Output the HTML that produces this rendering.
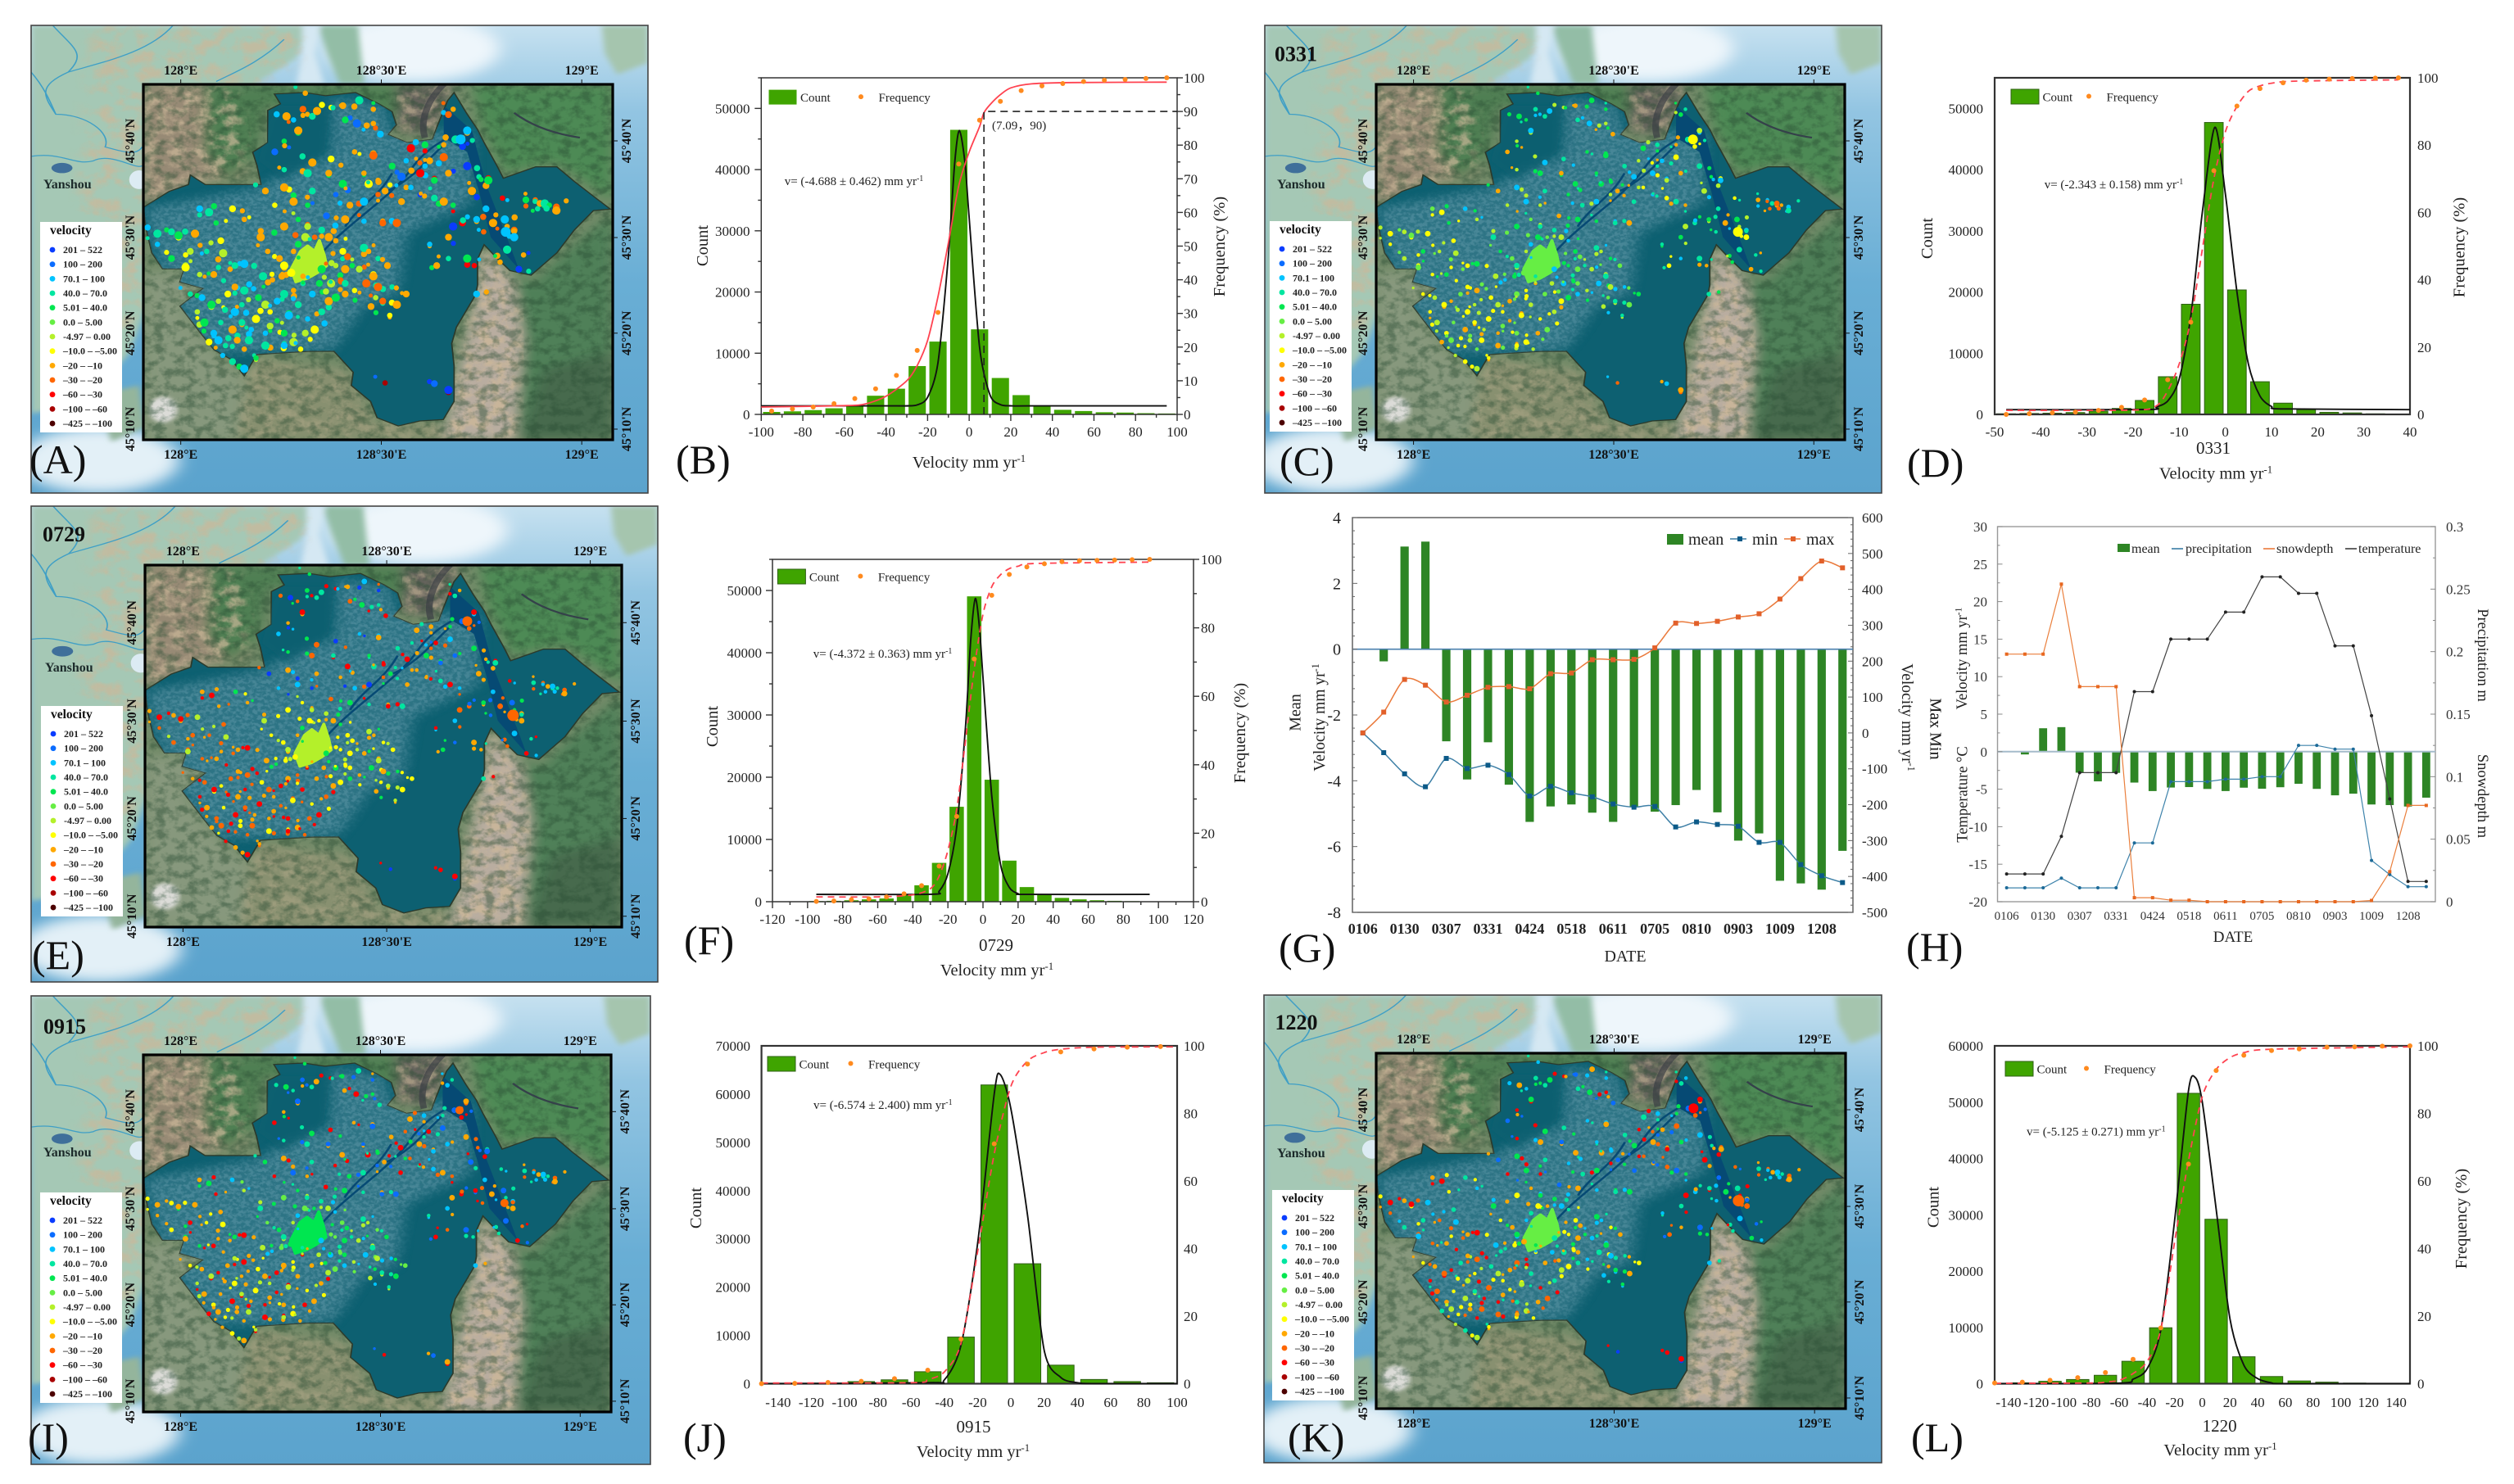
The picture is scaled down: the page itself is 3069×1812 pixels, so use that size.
<!DOCTYPE html>
<html lang="en">
<head>
<meta charset="utf-8">
<title>Velocity maps and histograms</title>
<style>
html,body{margin:0;padding:0;background:#fff;}
svg{display:block;font-family:"Liberation Serif","Noto Sans CJK SC",serif;}
</style>
</head>
<body>
<svg id="figure" xmlns="http://www.w3.org/2000/svg" width="3069" height="1812" viewBox="0 0 3069 1812">
<defs>
<clipPath id="clip-art"><rect x="0" y="0" width="1000" height="1000"/></clipPath>
<linearGradient id="sea" x1="0" y1="0" x2="0" y2="1">
<stop offset="0" stop-color="#c6e1f0"/><stop offset=".18" stop-color="#93c5e2"/><stop offset=".55" stop-color="#69aed5"/><stop offset="1" stop-color="#5ba3cd"/>
</linearGradient>
<filter id="f-blur" x="-10%" y="-10%" width="120%" height="120%"><feGaussianBlur stdDeviation="14"/></filter>
<filter id="f-blur-s" x="-10%" y="-10%" width="120%" height="120%"><feGaussianBlur stdDeviation="5"/></filter>
<filter id="f-tan" x="0" y="0" width="100%" height="100%" color-interpolation-filters="sRGB">
<feTurbulence type="fractalNoise" baseFrequency="0.035" numOctaves="4" seed="3"/>
<feColorMatrix values="0 0 0 0 .80  0 0 0 0 .72  0 0 0 0 .60  3.4 0 0 0 -1.45"/>
<feGaussianBlur stdDeviation="0.6" result="n"/>
<feGaussianBlur in="SourceAlpha" stdDeviation="12" result="a"/>
<feComposite in="n" in2="a" operator="in"/>
</filter>
<filter id="f-dark" x="0" y="0" width="100%" height="100%" color-interpolation-filters="sRGB">
<feTurbulence type="fractalNoise" baseFrequency="0.045" numOctaves="4" seed="11"/>
<feColorMatrix values="0 0 0 0 .16  0 0 0 0 .30  0 0 0 0 .20  3.2 0 0 0 -1.35"/>
<feComposite in2="SourceAlpha" operator="in"/>
</filter>
<filter id="f-pale" x="-5%" y="-5%" width="110%" height="110%" color-interpolation-filters="sRGB">
<feTurbulence type="fractalNoise" baseFrequency="0.11" numOctaves="3" seed="7"/>
<feColorMatrix values="0 0 0 0 .55  0 0 0 0 .72  0 0 0 0 .78  4 0 0 0 -1.55" result="n"/>
<feGaussianBlur in="SourceAlpha" stdDeviation="16" result="a"/>
<feComposite in="n" in2="a" operator="in"/>
</filter>
<g id="outer-art" clip-path="url(#clip-art)">
<rect width="1000" height="1000" fill="url(#sea)"/>
<g filter="url(#f-blur)">
<ellipse cx="110" cy="930" rx="130" ry="70" fill="#e3f0f7"/>
<ellipse cx="620" cy="50" rx="140" ry="70" fill="#eef6fb"/>
</g>
<g filter="url(#f-blur-s)">
<polygon points="0,0 450,0 430,70 370,120 250,300 200,560 160,700 100,790 40,820 0,830" fill="#a5c8b5"/>
<polygon points="465,0 530,0 540,125 500,125 480,60" fill="#93bda6"/>
<polygon points="925,0 1000,0 1000,80 950,105 930,60" fill="#a5c5ae"/>
<polygon points="105,790 175,770 185,860 130,890" fill="#94b59c"/>
<polygon points="440,0 470,0 460,60 475,125 430,125 440,60" fill="#d5e8f3"/>
</g>
<polygon points="100,0 450,0 430,70 370,120 250,300 200,560 160,650 60,650 90,200" fill="#fff" filter="url(#f-tan)" opacity=".7"/>
<ellipse cx="50" cy="305" rx="17" ry="11" fill="#3f6f9a"/>
<ellipse cx="175" cy="330" rx="16" ry="20" fill="#dcebf3"/>
<g fill="none" stroke="#3f9fc6" stroke-width="2.2">
<path d="M35,0 C70,50 90,60 60,100 C10,130 20,150 40,190 C90,190 130,230 120,260 C150,270 170,280 180,260"/>
<path d="M0,280 C50,270 70,300 100,290 C130,270 170,310 180,300"/>
<path d="M60,100 C110,80 190,60 230,0"/>
<path d="M300,120 C330,100 370,80 410,30"/>
<path d="M0,100 C20,130 30,160 40,190"/>
</g>
</g>
<g id="inner-art" clip-path="url(#clip-art)">
<rect width="1000" height="1000" fill="#728a68"/>
<g filter="url(#f-blur)">
<polygon points="0,0 200,0 240,160 210,260 120,270 40,320 0,340" fill="#978a74"/>
<polygon points="130,0 640,0 540,100 260,60 240,200 180,270 130,200" fill="#4f7f52"/>
<polygon points="540,0 660,0 620,140 540,130" fill="#65635c"/>
<polygon points="700,0 1000,0 1000,330 880,220 770,250 720,120" fill="#4e8a55"/>
<polygon points="720,500 830,560 900,470 1000,360 1000,1000 810,1000 720,900 700,620" fill="#4f8059"/>
<polygon points="725,460 790,560 810,720 790,1000 640,1000 680,760 710,600" fill="#b9ada0"/>
<polygon points="0,530 90,530 130,570 80,630 150,750 220,830 240,770 200,1000 0,1000" fill="#87987d"/>
<polygon points="220,830 240,770 440,810 490,950 640,960 640,1000 200,1000" fill="#88906f"/>
<polygon points="850,800 1000,750 1000,1000 800,1000" fill="#476b4e"/>
</g>
<ellipse cx="42" cy="915" rx="30" ry="36" fill="#dcdcd8" filter="url(#f-blur-s)"/>
<polygon points="0,0 190,0 230,160 200,260 120,270 40,320 0,340" fill="#fff" filter="url(#f-tan)" opacity=".7"/>
<polygon points="725,460 790,560 810,720 790,1000 640,1000 680,760 710,600" fill="#fff" filter="url(#f-tan)" opacity=".8"/>
<polygon points="220,830 240,770 440,810 490,950 640,960 640,1000 200,1000" fill="#fff" filter="url(#f-tan)" opacity=".3"/>
<polygon points="540,0 660,0 620,140 540,130" fill="#fff" filter="url(#f-tan)" opacity=".6"/>
<rect width="1000" height="1000" fill="#000" filter="url(#f-dark)" opacity=".45"/>
<polygon id="basin-shape" points="279,27 344,23 388,32 452,23 502,55 530,77 539,114 521,141 562,164 616,155 626,118 648,46 662,23 689,82 712,127 726,164 753,228 767,264 836,232 881,232 918,273 963,319 995,351 959,355 918,410 881,474 826,537 781,524 749,483 726,451 712,492 712,565 708,592 667,683 657,729 662,792 662,892 639,943 589,947 543,961 498,938 484,892 443,847 447,810 406,751 352,751 288,756 242,760 215,820 187,774 151,747 123,701 78,624 128,574 78,556 87,519 41,519 18,474 5,401 0,346 55,301 96,282 100,255 132,282 187,282 251,282 242,228 233,191 265,164 265,73 292,55" fill="#0d6071" stroke="#2c3a2b" stroke-width="3"/>
<clipPath id="clip-basin"><use href="#basin-shape"/></clipPath>
<g clip-path="url(#clip-basin)">
<polygon points="0,350 250,290 300,250 400,200 400,40 510,60 530,140 700,130 700,330 560,420 540,590 470,620 430,700 400,750 150,750 80,620 40,520" fill="#4f8899" opacity=".5" filter="url(#f-blur)"/>
<polygon points="0,350 250,290 300,250 400,200 400,40 510,60 530,140 700,130 700,330 560,420 540,590 470,620 430,700 400,750 150,760 60,620" fill="#fff" filter="url(#f-pale)" opacity=".28"/>
<polygon points="290,60 400,60 385,190 300,270 245,215 270,100" fill="#0d6071" opacity=".7" filter="url(#f-blur-s)"/>
<polygon points="640,60 700,130 730,280 780,450 800,520 740,430 715,300 690,190 640,150" fill="#064a74"/>
<g fill="none" stroke="#064a74" stroke-width="5">
<path d="M361,505 C420,400 520,330 570,240 C590,200 620,170 650,150"/>
<path d="M430,400 C460,340 500,320 530,250"/>
<path d="M520,300 C570,270 600,220 640,170"/>
</g>
</g>
<path d="M790,80 C830,120 880,140 930,150" fill="none" stroke="#35414a" stroke-width="5"/>
<path d="M640,0 C600,50 590,110 600,150" fill="none" stroke="#3a3f45" stroke-width="14" opacity=".7"/>
</g>
</defs>
</svg>
<script>
/* ---------- chart data ---------- */
const bCategories=[-95,-85,-75,-65,-55,-45,-35,-25,-15,-5,5,15,25,35,45,55,65,75,85,95];
const bCounts=[400,500,700,1000,1400,3050,4200,7900,11900,46500,13900,5950,3150,1400,750,550,350,300,200,150];
const bFreqValues=[1,1.6,2.2,3.2,4.7,7.6,11.6,19,30.3,74.4,87.4,93,96.2,97.6,98.3,98.9,99.3,99.5,99.8,100];
const bCumX=[-100,-60,-50,-40,-30,-25,-20,-15,-10,-5,0,5,7,10,15,20,30,50,95];
const bCumY=[2.2,2.6,3.1,5.4,10,14.5,22,35,51,68,78,85.5,89.5,92,95,97,98.2,98.6,98.7];
const bGaussX=[-100,-35,-30,-25,-20,-15,-10,-7,-4.7,-2,0,5,10,15,20,30,95];
const bGaussY=[1390,1390,1400,1550,2800,8500,26000,41000,46400,41000,32000,11000,3200,1600,1400,1390,1390];
const bXTicks=[-100,-80,-60,-40,-20,0,20,40,60,80,100];
const bYTicks=[0,10000,20000,30000,40000,50000];
const bRightTicks=[0,10,20,30,40,50,60,70,80,90,100];

const dCategories=[-47.5,-42.5,-37.5,-32.5,-27.5,-22.5,-17.5,-12.5,-7.5,-2.5,2.5,7.5,12.5,17.5,22.5,27.5,32.5,37.5];
const dCounts=[100,150,200,300,530,970,2280,6160,18000,47700,20340,5340,1840,780,340,240,100,50];
const dFreqValues=[0,0.2,0.5,0.7,1.2,2.1,4.3,10.3,27.4,72.4,91.6,96.8,98.5,99.3,99.6,99.8,99.9,100];
const dCumX=[-47.5,-20,-15,-12.5,-10,-7.5,-5,-2.5,0,2.5,5,7.5,10,15,37.5];
const dCumY=[1.2,1.3,2.5,7,15,28,49,70,84,91.5,96,97.6,98.4,99,99.4];
const dGaussX=[-47.5,-17,-15,-12.5,-10,-7.5,-5,-2.3,0,2.5,5,7.5,10,12.5,40];
const dGaussY=[780,800,1200,2200,5800,16000,33000,46900,36000,20000,8200,3000,1300,900,780];
const dXTicks=[-50,-40,-30,-20,-10,0,10,20,30,40];
const dYTicks=[0,10000,20000,30000,40000,50000];
const dRightTicks=[0,20,40,60,80,100];

const fCategories=[-95,-85,-75,-65,-55,-45,-35,-25,-15,-5,5,15,25,35,45,55,65,75,85];
const fCounts=[100,140,230,375,520,1170,2630,6240,15250,49060,19600,6600,2350,1080,610,375,230,140,90];
const fFreqBins=[-95,-85,-75,-65,-55,-45,-35,-25,-15,-5,5,15,25,35,45,55,65,75,85,95];
const fFreqValues=[0.1,0.2,0.6,0.85,1.4,2.3,4.7,10.4,24.9,70.9,89.5,95.6,97.8,98.7,99.3,99.6,99.7,99.8,99.9,100];
const fCumX=[-95,-60,-40,-30,-25,-20,-15,-10,-5,0,5,10,15,20,30,95];
const fCumY=[1.4,1.4,2,3.8,7.5,15,27,47,68,84,92,95.5,97.3,98,98.8,99.2];
const fGaussX=[-95,-30,-25,-20,-15,-10,-7,-4.4,-2,0,5,10,15,20,25,95];
const fGaussY=[1170,1200,1700,4500,12000,28000,42000,48700,44000,36000,17000,6000,2300,1300,1170,1170];
const fXTicks=[-120,-100,-80,-60,-40,-20,0,20,40,60,80,100,120];
const fYTicks=[0,10000,20000,30000,40000,50000];
const fRightTicks=[0,20,40,60,80,100];

const jCategories=[-130,-110,-90,-70,-50,-30,-10,10,30,50,70,90];
const jCounts=[60,100,430,800,2480,9660,61900,24850,3840,870,430,190];
const jFreqBins=[-150,-130,-110,-90,-70,-50,-30,-10,10,30,50,70,90];
const jFreqValues=[0,0.1,0.35,0.7,1.5,4,13.2,71,94.6,98.2,99.1,99.6,99.8];
const jCumX=[-150,-60,-50,-40,-30,-20,-10,0,10,20,30,50,100];
const jCumY=[0.2,0.3,1.2,3.5,12,39,68,88,95.5,98,99,99.6,99.7];
const jGaussX=[-150,-50,-40,-30,-20,-10,-6.5,0,10,20,30,40,50,100];
const jGaussY=[0,200,800,8000,29000,60000,64100,57000,35000,7000,1300,200,0,0];
const jXTicks=[-140,-120,-100,-80,-60,-40,-20,0,20,40,60,80,100];
const jYTicks=[0,10000,20000,30000,40000,50000,60000,70000];
const jRightTicks=[0,20,40,60,80,100];

const lCategories=[-130,-110,-90,-70,-50,-30,-10,10,30,50,70,90,110,130];
const lCounts=[150,420,740,1490,3980,9930,51570,29200,4780,1270,480,270,100,50];
const lFreqBins=[-150,-130,-110,-90,-70,-50,-30,-10,10,30,50,70,90,110,130,150];
const lFreqValues=[0.2,0.45,1,1.8,3.3,7.2,16.5,65,92.7,97.2,98.6,99.1,99.6,99.7,99.9,100];
const lCumX=[-150,-80,-70,-60,-50,-40,-30,-20,-10,0,10,20,30,50,150];
const lCumY=[0.1,0.2,0.5,1,3,6.5,16,42,66,85,93,96.5,98,99,99.7];
const lGaussX=[-150,-60,-50,-40,-30,-20,-10,-5.2,0,10,20,30,40,50,60,150];
const lGaussY=[0,100,800,2600,9500,29000,52000,54400,50000,31000,11500,3300,900,150,0,0];
const lXTicks=[-140,-120,-100,-80,-60,-40,-20,0,20,40,60,80,100,120,140];
const lYTicks=[0,10000,20000,30000,40000,50000,60000];
const lRightTicks=[0,20,40,60,80,100];

const dateLabels=["0106","0118","0130","0211","0307","0319","0331","0412","0424","0506","0518","0530","0611","0623","0705","0729","0810","0822","0903","0915","1009","1021","1208","1220"];
const meanValues=[0,-0.37,3.12,3.27,-2.8,-3.96,-2.83,-4.12,-5.25,-4.78,-4.72,-4.97,-5.25,-4.8,-4.94,-4.74,-4.28,-4.96,-5.82,-5.6,-7.04,-7.12,-7.31,-6.13];
const minValues=[0,-55,-114,-150,-71,-99,-90,-116,-176,-149,-167,-178,-198,-207,-205,-262,-248,-255,-260,-305,-305,-367,-398,-417];
const maxValues=[0,58,149,133,86,105,127,129,123,165,167,204,204,205,237,306,305,311,323,332,373,430,479,460];
const temperatureValues=[-16.3,-16.3,-16.3,-11.3,-2.8,-2.8,-2.8,8,8,15,15,15,18.6,18.6,23.3,23.3,21.1,21.1,14.1,14.1,4.8,-6.3,-17.3,-17.3];
const precipitationValues=[0.0111,0.0111,0.0111,0.0188,0.0111,0.0111,0.0111,0.047,0.047,0.096,0.096,0.096,0.098,0.098,0.1,0.1,0.125,0.125,0.122,0.122,0.033,0.0217,0.012,0.012];
const snowDepthValues=[0.198,0.198,0.198,0.254,0.172,0.172,0.172,0.0032,0.0032,0.0012,0.0012,0,0,0,0,0,0,0,0,0,0.001,0.024,0.077,0.077];
const gLeftTicks=[-8,-6,-4,-2,0,2,4];
const gRightTicks=[-500,-400,-300,-200,-100,0,100,200,300,400,500,600];
const hLeftTicks=[-20,-15,-10,-5,0,5,10,15,20,25,30];
const hRightTicks=[0,0.05,0.1,0.15,0.2,0.25,0.3];
const hRightLabels=["0","0.05","0.1","0.15","0.2","0.25","0.3"];

/* map legend classes */
const legendLabels=["201 – 522","100 – 200","70.1 – 100","40.0 – 70.0","5.01 – 40.0","0.0 – 5.00","-4.97 – 0.00","–10.0 – –5.00","–20 – –10","–30 – –20","–60 – –30","–100 – –60","–425 – –100"];
const legendColors=["#0a3cff","#0a6cff","#00c3ff","#00e6a0","#00e650","#66ee44","#b4f02a","#ffff00","#ffa800","#ff6600","#ff0000","#a80000","#4c0000"];
/* map sites, grouped by district, in relative map units */
const sitesWest=[[30,450],[60,415],[75,425],[90,480],[100,470],[110,420],[135,470],[120,350],[140,360],[155,390],[165,440],[170,475],[185,520],[195,510],[215,505],[160,515],[60,490],[90,515],[120,535],[150,535],[30,420]];
const sitesSouthWest=[[100,590],[125,600],[145,620],[160,610],[180,590],[195,640],[210,620],[195,570],[215,580],[235,575],[245,600],[260,620],[270,640],[285,610],[300,590],[320,580],[330,620],[310,650],[285,665],[270,680],[240,660],[230,690],[210,670],[190,690],[165,670],[150,700],[130,670],[115,640],[140,725],[160,720],[175,735],[200,720],[225,720],[260,700],[300,700],[320,725],[335,745],[300,735],[260,735],[215,745],[190,780],[215,800],[240,770],[345,700],[365,690],[350,660],[380,640],[395,610],[340,560],[360,590]];
const sitesCentral=[[265,470],[290,490],[300,510],[320,470],[330,450],[345,430],[365,430],[380,410],[395,430],[410,440],[425,470],[430,520],[445,510],[460,520],[475,560],[500,490],[520,510],[490,540],[450,580],[430,590],[410,600],[495,600],[510,610],[255,540],[275,550],[295,540],[315,530],[340,540],[375,560],[400,560],[420,550],[430,560],[250,430],[215,380],[190,350],[300,400],[330,380],[350,400],[500,570],[530,570],[560,590],[540,620],[525,650],[485,625],[380,520],[410,510],[435,485],[470,460],[480,470]];
const sitesNorth=[[345,25],[360,90],[330,130],[300,160],[280,190],[305,90],[320,100],[340,70],[370,75],[400,65],[425,60],[460,45],[490,70],[430,100],[455,110],[490,110],[505,140],[490,200],[450,190],[400,210],[360,220],[300,240],[395,250],[425,280],[410,310],[440,340],[470,330],[500,310],[515,300],[480,280],[500,270],[360,300],[320,330],[350,340],[390,370],[430,380],[470,385],[510,390],[300,290],[280,340],[260,300],[350,250],[470,250],[530,230],[550,260],[560,290]];
const sitesNorthEast=[[660,70],[650,85],[690,130],[680,150],[680,175],[665,155],[640,170],[600,170],[570,180],[560,215],[610,215],[640,205],[600,230],[650,250],[690,230],[715,260],[730,285],[735,270],[765,320],[730,350],[745,390],[725,415],[710,380],[700,300],[590,310],[620,320],[640,330],[660,340],[680,390],[770,380],[775,400],[790,410],[790,430],[810,480],[800,520],[775,465],[760,500],[620,270],[590,250],[570,290],[550,330],[540,390],[610,450],[650,430],[660,400],[650,490],[625,510],[690,490],[705,510],[710,590]];
const sitesEast=[[835,325],[845,335],[855,335],[865,340],[880,345],[880,355],[840,350],[815,325]];
const sitesSouth=[[515,840],[620,842],[650,860]];
const cityOutline=[[315,520],[335,470],[350,455],[365,470],[375,440],[385,480],[390,510],[370,530],[350,545],[325,555]];

/* ---------- helpers ---------- */
const NS='http://www.w3.org/2000/svg';
const svg=document.getElementById('figure');
function mk(tag,attrs,parent,content){
  const e=document.createElementNS(NS,tag);
  for(const k in attrs)e.setAttribute(k,attrs[k]);
  if(content!==undefined)e.textContent=content;
  (parent||svg).appendChild(e);
  return e;
}
function smooth(pts){
  let d='M'+pts[0][0].toFixed(1)+','+pts[0][1].toFixed(1);
  for(let i=0;i<pts.length-1;i++){
    const p0=pts[Math.max(0,i-1)],p1=pts[i],p2=pts[i+1],p3=pts[Math.min(pts.length-1,i+2)];
    const t=0.14;
    const c1x=p1[0]+(p2[0]-p0[0])*t,c1y=p1[1]+(p2[1]-p0[1])*t;
    const c2x=p2[0]-(p3[0]-p1[0])*t,c2y=p2[1]-(p3[1]-p1[1])*t;
    d+=' C'+c1x.toFixed(1)+','+c1y.toFixed(1)+' '+c2x.toFixed(1)+','+c2y.toFixed(1)+' '+p2[0].toFixed(1)+','+p2[1].toFixed(1);
  }
  return d;
}
function velocityText(parent,x,y,size,transform,label){
  const attrs={x:x,y:y,'font-size':size,'text-anchor':'middle',fill:'#222'};
  if(transform)attrs.transform=transform;
  const t=mk('text',attrs,parent);
  mk('tspan',{},t,label||'Velocity mm yr');
  mk('tspan',{dy:-size*0.35,'font-size':size*0.62},t,'-1');
  return t;
}
function rotatedTitle(parent,cx,cy,size,str,angle){
  const off=angle<0?size*0.33:-size*0.33;
  const bx=cx+off;
  const t=mk('text',{x:bx,y:cy,'font-size':size,'text-anchor':'middle',fill:'#222',transform:'rotate('+angle+' '+bx+' '+cy+')'},parent,str);
  return t;
}
function minorMids(ticks){
  const out=[];
  for(let i=0;i<ticks.length-1;i++)out.push((ticks[i]+ticks[i+1])/2);
  return out;
}

/* ---------- histograms ---------- */
function drawHistogram(c){
  const g=mk('g',{});
  
  
  const sx=v=>c.l+(v-c.xMin)/(c.xMax-c.xMin)*(c.r-c.l);
  const sy=v=>c.b-v/c.yMax*(c.b-c.t);
  const sr=v=>c.b-v/100*(c.b-c.t);
  const barFill='#3fa400';
  for(let i=0;i<c.categories.length;i++){
    const x0=sx(c.categories[i]-c.binWidth/2),x1=sx(c.categories[i]+c.binWidth/2);
    const bar=mk('rect',{x:x0,y:sy(c.counts[i]),width:x1-x0,height:c.b-sy(c.counts[i]),fill:barFill,stroke:c.ticks?'none':'#2f5f14','stroke-width':1},g);
    
    
  }
  const frame=mk('rect',{x:c.l,y:c.t,width:c.r-c.l,height:c.b-c.t,fill:'none',stroke:'#333','stroke-width':c.ticks?1.5:2.2},g);
  
  
  if(c.ticks){
    const tg=mk('g',{stroke:'#333','stroke-width':1.4},g);
    
    
    c.xTicks.forEach(v=>mk('line',{x1:sx(v),x2:sx(v),y1:c.b,y2:c.b+8},tg));
    minorMids(c.xTicks).forEach(v=>mk('line',{x1:sx(v),x2:sx(v),y1:c.b,y2:c.b+4},tg));
    c.yTicks.forEach(v=>mk('line',{x1:c.l-8,x2:c.l,y1:sy(v),y2:sy(v)},tg));
    minorMids(c.yTicks.concat([c.yMax*2-c.yTicks[c.yTicks.length-1]])).forEach(v=>{if(v<=c.yMax)mk('line',{x1:c.l-4,x2:c.l,y1:sy(v),y2:sy(v)},tg);});
    c.rightTicks.forEach(v=>mk('line',{x1:c.r,x2:c.r+7,y1:sr(v),y2:sr(v)},tg));
    minorMids(c.rightTicks).forEach(v=>mk('line',{x1:c.r,x2:c.r+4,y1:sr(v),y2:sr(v)},tg));
  }
  const gauss=mk('path',{d:smooth(c.gaussX.map((v,i)=>[sx(v),sy(c.gaussY[i])])),fill:'none',stroke:'#111','stroke-width':1.9},g);
  
  
  const cumAttrs={d:smooth(c.cumX.map((v,i)=>[sx(v),sr(c.cumY[i])])),fill:'none',stroke:'#ff4250','stroke-width':1.8};
  if(c.dashed)cumAttrs['stroke-dasharray']='8 6';
  const cum=mk('path',cumAttrs,g);
  
  
  for(let i=0;i<c.freqBins.length;i++){
    const dot=mk('circle',{cx:sx(c.freqBins[i]),cy:sr(c.freqValues[i]),r:3,fill:'#ff8a1e'},g);
    
    
  }
  c.xTicks.forEach(v=>{
    const t=mk('text',{x:sx(v),y:c.xLabelY,'font-size':17,'text-anchor':'middle',fill:'#222'},g,String(v));
    
    
  });
  c.yTicks.forEach(v=>{
    const t=mk('text',{x:c.yLabelX,y:sy(v)+6,'font-size':17,'text-anchor':'end',fill:'#222'},g,String(v));
    
    
  });
  c.rightTicks.forEach(v=>{
    const t=mk('text',{x:c.rightLabelX,y:sr(v)+6,'font-size':17,fill:'#222'},g,String(v));
    
    
  });
  const countTitle=rotatedTitle(g,c.countX,c.countY,20.5,'Count',-90);
  
  
  if(c.freqX){
    const freqTitle=rotatedTitle(g,c.freqX,c.freqY,20.5,'Frequency (%)',-90);
    
    
  }
  if(c.date){
    const d=mk('text',{x:c.dateX,y:c.dateY,'font-size':21,'text-anchor':'middle',fill:'#222'},g,c.date);
    
    
  }
  const vt=velocityText(g,c.velX,c.velY,20.5);
  
  
  const eq=mk('text',{x:c.eqX,y:c.eqY,'font-size':15,fill:'#222'},g);
  mk('tspan',{},eq,c.equation);
  mk('tspan',{dy:-5,'font-size':10},eq,'-1');
  
  
  const swatch=mk('rect',{x:c.legX,y:c.legY,width:34,height:18,fill:barFill,stroke:c.ticks&&c.id==='b'?'none':'#2f5f14','stroke-width':1},g);
  
  
  const lc=mk('text',{x:c.legX+38.5,y:c.legY+14.5,'font-size':15,fill:'#222'},g,'Count');
  
  
  const ld=mk('circle',{cx:c.legX+c.legDot,cy:c.legY+8.5,r:3,fill:'#ff8a1e'},g);
  
  
  const lf=mk('text',{x:c.legX+c.legDot+21.5,y:c.legY+14.5,'font-size':15,fill:'#222'},g,'Frequency');
  
  
  if(c.marker){
    const dash=mk('path',{d:'M'+sx(c.marker[0])+','+c.b+' V'+sr(c.marker[1])+' H'+c.r,fill:'none',stroke:'#222','stroke-width':1.6,'stroke-dasharray':'9 6'},g);
    
    
    const note=mk('text',{x:1211,y:158,'font-size':15,fill:'#222'},g,'(7.09，90)');
    
    
  }
}
drawHistogram({id:'b',l:929.3,r:1437,t:95,b:506,xMin:-100,xMax:100,yMax:55000,binWidth:8.3,ticks:true,dashed:false,categories:bCategories,counts:bCounts,freqBins:bCategories,freqValues:bFreqValues,cumX:bCumX,cumY:bCumY,gaussX:bGaussX,gaussY:bGaussY,xTicks:bXTicks,yTicks:bYTicks,rightTicks:bRightTicks,xLabelY:533,yLabelX:915.5,rightLabelX:1445,countX:857,countY:300,freqX:1488,freqY:301,velX:1183,velY:571,eqX:957.7,eqY:226,equation:'v= (-4.688 ± 0.462) mm yr',legX:938.5,legY:109.6,legDot:112.5,marker:[7.09,90]});
drawHistogram({id:'d',l:2435,r:2942,t:95,b:506,xMin:-50,xMax:40,yMax:55000,binWidth:4.05,ticks:false,dashed:true,categories:dCategories,counts:dCounts,freqBins:dCategories,freqValues:dFreqValues,cumX:dCumX,cumY:dCumY,gaussX:dGaussX,gaussY:dGaussY,xTicks:dXTicks,yTicks:dYTicks,rightTicks:dRightTicks,xLabelY:533,yLabelX:2421,rightLabelX:2951,countX:2352,countY:291,freqX:3001.6,freqY:302,date:'0331',dateX:2702,dateY:554,velX:2705,velY:584.5,eqX:2495.7,eqY:230,equation:'v= (-2.343 ± 0.158) mm yr',legX:2455,legY:109,legDot:95});
drawHistogram({id:'f',l:943,r:1457,t:683,b:1101,xMin:-120,xMax:120,yMax:55000,binWidth:8.2,ticks:true,dashed:true,categories:fCategories,counts:fCounts,freqBins:fFreqBins,freqValues:fFreqValues,cumX:fCumX,cumY:fCumY,gaussX:fGaussX,gaussY:fGaussY,xTicks:fXTicks,yTicks:fYTicks,rightTicks:fRightTicks,xLabelY:1128,yLabelX:930,rightLabelX:1466,countX:869,countY:887,freqX:1513,freqY:895,date:'0729',dateX:1216,dateY:1161,velX:1217,velY:1191,eqX:992.8,eqY:803,equation:'v= (-4.372 ± 0.363) mm yr',legX:949.4,legY:695,legDot:101});
drawHistogram({id:'j',l:929.6,r:1437,t:1277,b:1689.5,xMin:-150,xMax:100,yMax:70000,binWidth:16,ticks:false,dashed:true,categories:jCategories,counts:jCounts,freqBins:jFreqBins,freqValues:jFreqValues,cumX:jCumX,cumY:jCumY,gaussX:jGaussX,gaussY:jGaussY,xTicks:jXTicks,yTicks:jYTicks,rightTicks:jRightTicks,xLabelY:1718,yLabelX:916,rightLabelX:1445,countX:849,countY:1475,date:'0915',dateX:1188.5,dateY:1749,velX:1188,velY:1779,eqX:993,eqY:1354,equation:'v= (-6.574 ± 2.400) mm yr',legX:937,legY:1290,legDot:101.5});
drawHistogram({id:'l',l:2435,r:2942,t:1277,b:1689.5,xMin:-150,xMax:150,yMax:60000,binWidth:16.2,ticks:false,dashed:true,categories:lCategories,counts:lCounts,freqBins:lFreqBins,freqValues:lFreqValues,cumX:lCumX,cumY:lCumY,gaussX:lGaussX,gaussY:lGaussY,xTicks:lXTicks,yTicks:lYTicks,rightTicks:lRightTicks,xLabelY:1718,yLabelX:2421,rightLabelX:2951,countX:2359.5,countY:1474,freqX:3004,freqY:1488,date:'1220',dateX:2709.6,dateY:1748,velX:2710.5,velY:1777,eqX:2474,eqY:1386.7,equation:'v= (-5.125 ± 0.271) mm yr',legX:2448,legY:1296,legDot:99});

/* ---------- chart G ---------- */
(function(){
  const l=1651,r=2262,t=632,b=1114;
  const g=mk('g',{});
  
  
  const band=(r-l)/dateLabels.length;
  const sx=i=>l+band*(i+0.5);
  const sy=v=>t+(4-v)/12*(b-t);
  const sr=v=>t+(600-v)/1100*(b-t);
  meanValues.forEach((v,i)=>{
    const y0=Math.min(sy(v),sy(0)),h=Math.abs(sy(v)-sy(0));
    const bar=mk('rect',{x:sx(i)-band*0.2,y:y0,width:band*0.4,height:h,fill:'#2e8525'},g);
    
    
  });
  const frame=mk('rect',{x:l,y:t,width:r-l,height:b-t,fill:'none',stroke:'#555','stroke-width':1.4},g);
  
  
  const zero=mk('line',{x1:l,x2:r,y1:sy(0),y2:sy(0),stroke:'#4a7fae','stroke-width':1.6},g);
  
  
  const tg=mk('g',{stroke:'#666','stroke-width':1},g);
  
  
  gLeftTicks.forEach((v,i)=>{
    mk('line',{x1:l,x2:l+6,y1:sy(v),y2:sy(v)},tg);
    if(i<gLeftTicks.length-1)[0.4,0.8,1.2,1.6].forEach(d=>mk('line',{x1:l,x2:l+3,y1:sy(v+d),y2:sy(v+d)},tg));
  });
  gRightTicks.forEach((v,i)=>{
    mk('line',{x1:r-6,x2:r,y1:sr(v),y2:sr(v)},tg);
    if(i<gRightTicks.length-1)[20,40,60,80].forEach(d=>mk('line',{x1:r-3,x2:r,y1:sr(v+d),y2:sr(v+d)},tg));
  });
  const minLine=mk('path',{d:smooth(minValues.map((v,i)=>[sx(i),sr(v)])),fill:'none',stroke:'#3d7fa6','stroke-width':1.5},g);
  
  
  const maxLine=mk('path',{d:smooth(maxValues.map((v,i)=>[sx(i),sr(v)])),fill:'none',stroke:'#ea7a3c','stroke-width':1.5},g);
  
  
  minValues.forEach((v,i)=>{
    const m=mk('rect',{x:sx(i)-3,y:sr(v)-3,width:6,height:6,fill:'#0c5a88'},g);
    
    
  });
  maxValues.forEach((v,i)=>{
    const m=mk('rect',{x:sx(i)-3,y:sr(v)-3,width:6,height:6,fill:'#e2602a'},g);
    
    
  });
  gLeftTicks.forEach(v=>{
    const s=mk('text',{x:1637,y:sy(v)+7,'font-size':20,'text-anchor':'end',fill:'#222'},g,String(v));
    
    
  });
  gRightTicks.forEach(v=>{
    const s=mk('text',{x:2273,y:sr(v)+6,'font-size':17,fill:'#222'},g,String(v));
    
    
  });
  dateLabels.forEach((d,i)=>{
    if(i%2)return;
    const s=mk('text',{x:sx(i),y:1140,'font-size':18,'font-weight':'bold','text-anchor':'middle',fill:'#222'},g,d);
    
    
  });
  const dt=mk('text',{x:1984,y:1174,'font-size':20,'text-anchor':'middle',fill:'#222'},g,'DATE');
  
  
  const mt=rotatedTitle(g,1581,870,20,'Mean',-90);
  
  
  const vl=velocityText(g,1617,876,19.5,'rotate(-90 1617 876)');
  
  
  const vr=velocityText(g,2322,876,19.5,'rotate(90 2322 876)');
  
  
  const mm=rotatedTitle(g,2363,890,20,'Max Min',90);
  
  
  const sw=mk('rect',{x:2035,y:652,width:20,height:13,fill:'#2e8525'},g);
  
  
  const t1=mk('text',{x:2061,y:665,'font-size':20,fill:'#222'},g,'mean');
  
  
  const l1=mk('line',{x1:2112,x2:2132,y1:658,y2:658,stroke:'#3d7fa6','stroke-width':1.5},g);
  
  
  const m1=mk('rect',{x:2121,y:655,width:6,height:6,fill:'#0c5a88'},g);
  
  
  const t2=mk('text',{x:2139,y:665,'font-size':20,fill:'#222'},g,'min');
  
  
  const l2=mk('line',{x1:2178,x2:2198,y1:658,y2:658,stroke:'#ea7a3c','stroke-width':1.5},g);
  
  
  const m2=mk('rect',{x:2186,y:655,width:6,height:6,fill:'#e2602a'},g);
  
  
  const t3=mk('text',{x:2205,y:665,'font-size':20,fill:'#222'},g,'max');
  
  
})();

/* ---------- chart H ---------- */
(function(){
  const l=2438.5,r=2973,t=643,b=1101;
  const g=mk('g',{});
  
  
  const band=(r-l)/dateLabels.length;
  const sx=i=>l+band*(i+0.5);
  const sy=v=>t+(30-v)/50*(b-t);
  const sr=v=>b-v/0.3*(b-t);
  meanValues.forEach((v,i)=>{
    const y0=Math.min(sy(v),sy(0)),h=Math.abs(sy(v)-sy(0));
    const bar=mk('rect',{x:sx(i)-band*0.22,y:y0,width:band*0.44,height:h,fill:'#2e8525'},g);
    
    
  });
  const frame=mk('rect',{x:l,y:t,width:r-l,height:b-t,fill:'none',stroke:'#999','stroke-width':1.4},g);
  
  
  const zero=mk('line',{x1:l,x2:r,y1:sy(0),y2:sy(0),stroke:'#a5bccb','stroke-width':2},g);
  
  
  const tg=mk('g',{stroke:'#888','stroke-width':1},g);
  
  
  hLeftTicks.forEach(v=>mk('line',{x1:l,x2:l+6,y1:sy(v),y2:sy(v)},tg));
  minorMids(hLeftTicks).forEach(v=>mk('line',{x1:l,x2:l+3,y1:sy(v),y2:sy(v)},tg));
  hRightTicks.forEach(v=>mk('line',{x1:r-6,x2:r,y1:sr(v),y2:sr(v)},tg));
  minorMids(hRightTicks).forEach(v=>mk('line',{x1:r-3,x2:r,y1:sr(v),y2:sr(v)},tg));
  const toPts=(vals,scale)=>vals.map((v,i)=>sx(i).toFixed(1)+','+scale(v).toFixed(1)).join(' ');
  const tempLine=mk('polyline',{points:toPts(temperatureValues,sy),fill:'none',stroke:'#444','stroke-width':1.2},g);
  
  
  const precLine=mk('polyline',{points:toPts(precipitationValues,sr),fill:'none',stroke:'#3e83ab','stroke-width':1.2},g);
  
  
  const snowLine=mk('polyline',{points:toPts(snowDepthValues,sr),fill:'none',stroke:'#ea7f3c','stroke-width':1.2},g);
  
  
  temperatureValues.forEach((v,i)=>{
    const m=mk('circle',{cx:sx(i),cy:sy(v),r:2,fill:'#222'},g);
    
    
  });
  precipitationValues.forEach((v,i)=>{
    const m=mk('circle',{cx:sx(i),cy:sr(v),r:2,fill:'#1c6a98'},g);
    
    
  });
  snowDepthValues.forEach((v,i)=>{
    const m=mk('rect',{x:sx(i)-2,y:sr(v)-2,width:4,height:4,fill:'#e8671f'},g);
    
    
  });
  hLeftTicks.forEach(v=>{
    const s=mk('text',{x:2426,y:sy(v)+6,'font-size':17,'text-anchor':'end',fill:'#333'},g,String(v));
    
    
  });
  hRightTicks.forEach((v,i)=>{
    const s=mk('text',{x:2986,y:sr(v)+6,'font-size':17,fill:'#333'},g,hRightLabels[i]);
    
    
  });
  dateLabels.forEach((d,i)=>{
    if(i%2)return;
    const s=mk('text',{x:sx(i),y:1123,'font-size':15,'text-anchor':'middle',fill:'#333'},g,d);
    
    
  });
  const dt=mk('text',{x:2726,y:1150,'font-size':19,'text-anchor':'middle',fill:'#222'},g,'DATE');
  
  
  const v1=velocityText(g,2401,804,18.5,'rotate(-90 2401 804)');
  
  
  const v2=rotatedTitle(g,2395.5,970,18.5,'Temperature °C',-90);
  
  
  const v3=rotatedTitle(g,3031,800,18.5,'Precipitation  m',90);
  
  
  const v4=rotatedTitle(g,3031,972,18.5,'Snowdepth m',90);
  
  
  const sw=mk('rect',{x:2585,y:664,width:15,height:10,fill:'#2e8525'},g);
  
  
  const t1=mk('text',{x:2602,y:675,'font-size':16,fill:'#222'},g,'mean');
  
  
  const l1=mk('line',{x1:2651,x2:2665,y1:670,y2:670,stroke:'#1c6a98','stroke-width':1.4},g);
  
  
  const t2=mk('text',{x:2668,y:675,'font-size':16,fill:'#222'},g,'precipitation');
  
  
  const l2=mk('line',{x1:2763,x2:2777,y1:670,y2:670,stroke:'#e8671f','stroke-width':1.4},g);
  
  
  const t3=mk('text',{x:2779,y:675,'font-size':16,fill:'#222'},g,'snowdepth');
  
  
  const l3=mk('line',{x1:2863,x2:2877,y1:670,y2:670,stroke:'#222','stroke-width':1.4},g);
  
  
  const t4=mk('text',{x:2879,y:675,'font-size':16,fill:'#222'},g,'temperature');
  
  
  const mm=rotatedTitle(g,2363,890,20,'Max Min',90);
  
  
})();

/* ---------- maps ---------- */
function drawMap(p){
  const g=mk('g',{});
  
  
  const ow=p.outer[2]-p.outer[0],oh=p.outer[3]-p.outer[1];
  const iw=p.inner[2]-p.inner[0],ih=p.inner[3]-p.inner[1];
  const o=mk('use',{href:'#outer-art',transform:'translate('+p.outer[0]+' '+p.outer[1]+') scale('+ow/1000+' '+oh/1000+')'},g);
  
  
  const oframe=mk('rect',{x:p.outer[0],y:p.outer[1],width:ow,height:oh,fill:'none',stroke:'#444','stroke-width':1.6},g);
  
  
  const i=mk('use',{href:'#inner-art',transform:'translate('+p.inner[0]+' '+p.inner[1]+') scale('+iw/1000+' '+ih/1000+')'},g);
  
  
  const mx=u=>p.inner[0]+u/1000*iw;
  const my=v=>p.inner[1]+v/1000*ih;
  const city=mk('polygon',{points:cityOutline.map(q=>mx(q[0]).toFixed(1)+','+my(q[1]).toFixed(1)).join(' '),fill:legendColors[p.cityClass],stroke:legendColors[p.cityClass],'stroke-width':4,'stroke-linejoin':'round'},g);
  
  
  const zones=[[sitesWest,p.classes[0]],[sitesSouthWest,p.classes[1]],[sitesCentral,p.classes[2]],[sitesNorth,p.classes[3]],[sitesNorthEast,p.classes[4]],[sitesEast,p.classes[5]],[sitesSouth,p.classes[6]]];
  zones.forEach(z=>{
    z[0].forEach((s,n)=>{
      const r=p.radius*(0.75+0.2*(n%3));
      const d2=mk('circle',{cx:mx(s[0])+6*((n%5)-2),cy:my(s[1])+5*((n%4)-1.5),r:r*0.75,fill:legendColors[z[1][(n+1)%z[1].length]]},g);
      
      
      const d=mk('circle',{cx:mx(s[0]),cy:my(s[1]),r:r,fill:legendColors[z[1][n%z[1].length]]},g);
      
      
    });
  });
  p.hotspots.forEach(h=>{
    const d=mk('circle',{cx:mx(h[0]),cy:my(h[1]),r:h[3],fill:legendColors[h[2]]},g);
    
    
  });
  const iframe=mk('rect',{x:p.inner[0],y:p.inner[1],width:iw,height:ih,fill:'none',stroke:'#000','stroke-width':3.2},g);
  
  
  const lonFractions=[0.0797,0.507,0.934];
  const lonLabels=["128°E","128°30'E","129°E"];
  lonFractions.forEach((f,n)=>{
    const x=p.inner[0]+f*iw;
    const t1=mk('text',{x:x,y:p.inner[1]-12,'font-size':16,'font-weight':'bold','text-anchor':'middle',fill:'#111'},g,lonLabels[n]);
    
    
    const t2=mk('text',{x:x,y:p.inner[3]+23,'font-size':16,'font-weight':'bold','text-anchor':'middle',fill:'#111'},g,lonLabels[n]);
    
    
    const m1=mk('line',{x1:x,x2:x,y1:p.inner[1]-6,y2:p.inner[1],stroke:'#111','stroke-width':1},g);
    
    
    const m2=mk('line',{x1:x,x2:x,y1:p.inner[3],y2:p.inner[3]+6,stroke:'#111','stroke-width':1},g);
    
    
  });
  const latFractions=[0.159,0.431,0.70,0.97];
  const latLabels=["45°40'N","45°30'N","45°20'N","45°10'N"];
  latFractions.forEach((f,n)=>{
    const y=p.inner[1]+f*ih;
    const lx=p.inner[0]-11,rx=p.inner[2]+22;
    const t1=mk('text',{x:lx,y:y,'font-size':16,'font-weight':'bold','text-anchor':'middle',fill:'#111',transform:'rotate(-90 '+lx+' '+y+')'},g,latLabels[n]);
    
    
    const t2=mk('text',{x:rx,y:y,'font-size':16,'font-weight':'bold','text-anchor':'middle',fill:'#111',transform:'rotate(-90 '+rx+' '+y+')'},g,latLabels[n]);
    
    
    const m1=mk('line',{x1:p.inner[2],x2:p.inner[2]+6,y1:y,y2:y,stroke:'#111','stroke-width':1},g);
    
    
  });
  const ys=mk('text',{x:p.yanshou[0],y:p.yanshou[1],'font-size':16,'font-weight':'bold',fill:'#1c2a2a'},g,'Yanshou');
  
  
  const lx=p.legend[0],ly=p.legend[1];
  const box=mk('rect',{x:lx,y:ly,width:100,height:257,fill:'#fff'},g);
  
  
  const title=mk('text',{x:lx+12,y:ly+15,'font-size':15.5,'font-weight':'bold',fill:'#111'},g,'velocity');
  
  
  legendLabels.forEach((s,n)=>{
    const yy=ly+34+n*17.67;
    const d=mk('circle',{cx:lx+15,cy:yy,r:3.4,fill:legendColors[n]},g);
    
    
    const t=mk('text',{x:lx+28,y:yy+4,'font-size':12,'font-weight':'bold',fill:'#222'},g,s);
    
    
  });
  if(p.date){
    const dl=mk('text',{x:p.date[1],y:p.date[2],'font-size':26,'font-weight':'bold',fill:'#111'},g,p.date[0]);
    
    
  }
}
drawMap({id:'a',outer:[38,31,791,602],inner:[175,103,748,537],legend:[49,271],yanshou:[53,230],radius:4.4,cityClass:6,classes:[[2,3,4,7,6,8,3],[3,2,4,6,7,2,3,8],[8,8,7,8,4,6,9,3],[8,3,8,4,1,8,2,9,8,7],[8,9,2,8,0,3,8,4,10,2],[9,8,3,4],[11,1,0]],hotspots:[[676,155,2,6],[772,415,2,6]]});
drawMap({id:'c',outer:[1544,31,2297,602],inner:[1680,103,2252,537],legend:[1550,270],yanshou:[1559,230],date:['0331',1556,74.5],radius:3,cityClass:5,classes:[[7,6,5,7,4],[7,6,7,8,5],[4,5,3,6,2],[4,3,2,6,8,4],[3,4,6,2,7,3,8],[2,3,9,8],[9,2,8]],hotspots:[[676,155,7,6],[772,415,7,6]]});
drawMap({id:'e',outer:[38,618,803,1199],inner:[177,690,759,1132],legend:[50,862],yanshou:[55,820],date:['0729',52,661],radius:3,cityClass:6,classes:[[9,8,10,8,9,6],[8,9,10,7,9,8,10],[7,7,6,8,4],[4,3,10,8,2,0,9],[8,3,10,2,9,1,4,8],[9,8,2,3],[0,10,10]],hotspots:[[676,155,9,6],[772,415,9,7]]});
drawMap({id:'i',outer:[38,1216,794,1788],inner:[175,1288,746,1724],legend:[49,1456],yanshou:[53,1412],date:['0915',53,1262],radius:3,cityClass:4,classes:[[8,7,8,4,10],[7,8,6,10,8],[5,4,3,6,2],[4,3,1,8,10],[3,2,8,9,10,1],[9,8,2,3],[10,1,8]],hotspots:[[676,155,9,5],[772,415,9,5]]});
drawMap({id:'k',outer:[1543,1215,2297,1786],inner:[1680,1286,2253,1720],legend:[1553,1453],yanshou:[1559,1413],date:['1220',1556.5,1257],radius:3,cityClass:5,classes:[[9,8,10,7,3,2],[7,8,9,10,3,6],[7,8,4,2,3],[2,3,4,10,1,8],[2,3,10,8,9,1,4],[9,8,2,3],[0,10,10]],hotspots:[[676,155,10,6],[772,415,9,7]]});

/* ---------- panel letters ---------- */
const panelLetters=["(A)","(B)","(C)","(D)","(E)","(F)","(G)","(H)","(I)","(J)","(K)","(L)"];
const panelLetterX=[36,825,1562,2328,39,835,1561,2327,34,834,1572,2333];
const panelLetterY=[578,578,580,582,1183,1165,1174,1173,1772,1772,1772,1772];
panelLetters.forEach((s,i)=>{
  const t=mk('text',{x:panelLetterX[i],y:panelLetterY[i],'font-size':50,fill:'#111'},svg,s);
  
  
});
</script>
</body>
</html>
